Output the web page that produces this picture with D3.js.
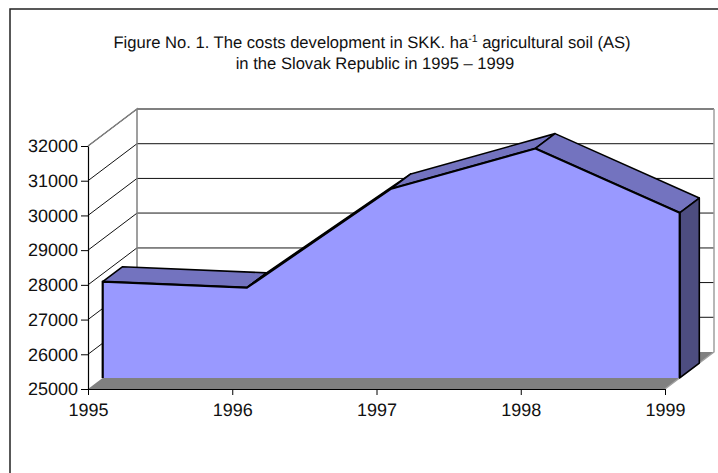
<!DOCTYPE html>
<html>
<head>
<meta charset="utf-8">
<script src="https://cdnjs.cloudflare.com/ajax/libs/d3/7.8.5/d3.min.js"></script>
<style>
  html, body { margin: 0; padding: 0; background: #fff; }
  svg { display: block; }
  text { font-family: "Liberation Sans", Arial, sans-serif; fill: #111; text-rendering: geometricPrecision; }
</style>
</head>
<body>
<svg width="718" height="473"></svg>
<script>
const years = ['1995', '1996', '1997', '1998', '1999']
const costs = [27775, 27600, 30450, 31610, 29755]
const yTicks = [25000, 26000, 27000, 28000, 29000, 30000, 31000, 32000]
const greyGridValues = [32000, 29000, 28000]
const titleLine2 = 'in the Slovak Republic in 1995 – 1999'

const svg = d3.select('svg')

const x = d3.scalePoint().domain(years).range([88, 665])
const y = d3.scaleLinear().domain([25000, 32000]).range([389, 146])

// depth of the 3d box, the series sits between 30% and 70% of it
const depthX = 49
const depthY = -37
const frontDepth = 0.3
const backDepth = 0.7

const px = (year, d) => x(year) + depthX * d
const py = (value, d) => y(value) + depthY * d

const points = years.map((year, i) => ({ year: year, value: costs[i] }))
const last = points[points.length - 1]
const baseValue = y.domain()[0]

const line = d3.line()

// outer frame, right and bottom sides fall outside the picture
svg.append('rect')
  .attr('x', 10).attr('y', 9)
  .attr('width', 740).attr('height', 500)
  .attr('fill', 'none')
  .attr('stroke', '#222')
  .attr('stroke-width', 1.5)

// floor
svg.append('path')
  .attr('d', line([
    [px('1995', 0), py(baseValue, 0)],
    [px('1999', 0), py(baseValue, 0)],
    [px('1999', 1), py(baseValue, 1)],
    [px('1995', 1), py(baseValue, 1)]
  ]) + 'Z')
  .attr('fill', '#808080')

// gridlines on the two walls
yTicks.filter(v => v > baseValue).forEach(v => {
  svg.append('path')
    .attr('d', line([
      [px('1995', 0), py(v, 0)],
      [px('1995', 1), py(v, 1)],
      [px('1999', 1), py(v, 1)]
    ]))
    .attr('fill', 'none')
    .attr('stroke', '#111')
    .attr('stroke-width', 1)
})

// some back wall lines came out grey in the picture
greyGridValues.forEach(v => {
  svg.append('path')
    .attr('d', line([
      [px('1995', 1), py(v, 1)],
      [px('1999', 1), py(v, 1)]
    ]))
    .attr('fill', 'none')
    .attr('stroke', '#808080')
    .attr('stroke-width', v === 32000 ? 2 : 1.5)
})

// top-left diagonal and back wall verticals
svg.append('path')
  .attr('d', line([
    [px('1995', 0), py(32000, 0)],
    [px('1995', 1), py(32000, 1)],
    [px('1995', 1), py(baseValue, 1)]
  ]))
  .attr('fill', 'none')
  .attr('stroke', '#808080')
  .attr('stroke-width', 1.5)

svg.append('path')
  .attr('d', line([
    [px('1999', 1), py(32000, 1)],
    [px('1999', 1), py(baseValue, 1)],
    [px('1999', 0), py(baseValue, 0)]
  ]))
  .attr('fill', 'none')
  .attr('stroke', '#a0a0a0')
  .attr('stroke-width', 1.5)

// top faces of the area
d3.pairs(points).forEach(([a, b]) => {
  svg.append('path')
    .attr('d', line([
      [px(a.year, frontDepth), py(a.value, frontDepth)],
      [px(b.year, frontDepth), py(b.value, frontDepth)],
      [px(b.year, backDepth), py(b.value, backDepth)],
      [px(a.year, backDepth), py(a.value, backDepth)]
    ]) + 'Z')
    .attr('fill', '#7373BF')
    .attr('stroke', '#000')
    .attr('stroke-width', 1.6)
    .attr('stroke-linejoin', 'round')
})

// right side face
svg.append('path')
  .attr('d', line([
    [px(last.year, frontDepth), py(last.value, frontDepth)],
    [px(last.year, backDepth), py(last.value, backDepth)],
    [px(last.year, backDepth), py(baseValue, backDepth)],
    [px(last.year, frontDepth), py(baseValue, frontDepth)]
  ]) + 'Z')
  .attr('fill', '#4D4D80')
  .attr('stroke', '#000')
  .attr('stroke-width', 1.6)
  .attr('stroke-linejoin', 'round')

// front face, no stroke along its bottom
const frontArea = d3.area()
  .x(d => px(d.year, frontDepth))
  .y0(py(baseValue, frontDepth))
  .y1(d => py(d.value, frontDepth))

svg.append('path')
  .attr('d', frontArea(points))
  .attr('fill', '#9999FF')

const outline = [[px('1995', frontDepth), py(baseValue, frontDepth)]]
  .concat(points.map(d => [px(d.year, frontDepth), py(d.value, frontDepth)]))
  .concat([[px(last.year, frontDepth), py(baseValue, frontDepth)]])

svg.append('path')
  .attr('d', line(outline))
  .attr('fill', 'none')
  .attr('stroke', '#000')
  .attr('stroke-width', 2.2)
  .attr('stroke-linejoin', 'round')

// axes
const yAxis = d3.axisLeft(y).tickValues(yTicks).tickFormat(d3.format('d')).tickSize(7).tickPadding(3).tickSizeOuter(0)
const xAxis = d3.axisBottom(x).tickSize(6).tickPadding(8).tickSizeOuter(0)

const gy = svg.append('g').attr('transform', 'translate(88,0)').call(yAxis)
const gx = svg.append('g').attr('transform', 'translate(0,389)').call(xAxis)

svg.selectAll('.domain').attr('stroke', '#000').attr('stroke-width', 1.2)
svg.selectAll('.tick line').attr('stroke', '#000')
gy.selectAll('text').style('font-size', '18px').attr('fill', '#111')
gx.selectAll('text').style('font-size', '18px').attr('fill', '#111')

// title
const title = svg.append('text')
  .attr('x', 372).attr('y', 48)
  .attr('text-anchor', 'middle')
  .style('font-size', '16.6px')
title.append('tspan').text('Figure No. 1. The costs development in SKK. ha')
title.append('tspan').attr('dy', -6).style('font-size', '10.5px').text('-1')
title.append('tspan').attr('dy', 6).text(' agricultural soil (AS)')

svg.append('text')
  .attr('x', 375).attr('y', 69)
  .attr('text-anchor', 'middle')
  .style('font-size', '16.6px')
  .text(titleLine2)
</script>
</body>
</html>
